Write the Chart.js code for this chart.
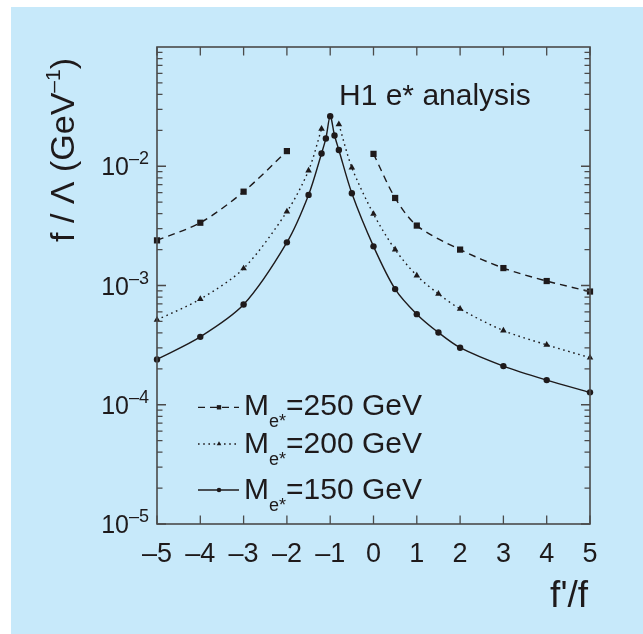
<!DOCTYPE html>
<html><head><meta charset="utf-8">
<script src="https://cdn.jsdelivr.net/npm/chart.js@4"></script>
<style>html,body{margin:0;padding:0;background:#fff;} canvas{display:block;}</style>
</head><body>
<canvas id="c" width="643" height="634"></canvas>
<script>
// ---- data ----
const xTicks = [-5,-4,-3,-2,-1,0,1,2,3,4,5];
const xTickLabels = ['\u20135','\u20134','\u20133','\u20132','\u20131','0','1','2','3','4','5'];
const yDecades = [1e-5,1e-4,1e-3,1e-2];
const yTickExps = ['\u20135','\u20134','\u20133','\u20132'];
const seriesNames = ['=250 GeV','=200 GeV','=150 GeV'];

const m250X = [-5,-4,-3,-2,-1,0,0.5,1,2,3,4,5];
const m250Y = [2.39e-3,3.36e-3,6.12e-3,1.34e-2,null,1.27e-2,5.42e-3,3.18e-3,2.0e-3,1.40e-3,1.09e-3,8.9e-4];

const m200X = [-5,-4,-3,-2,-1.5,-1.2,-1,-0.8,-0.5,0,0.5,1,1.5,2,3,4,5];
const m200Y = [5.15e-4,7.69e-4,1.39e-3,4.16e-3,9.2e-3,2.06e-2,null,2.25e-2,9.75e-3,3.98e-3,2.0e-3,1.21e-3,8.5e-4,6.37e-4,4.19e-4,3.18e-4,2.48e-4];

const m150X = [-5,-4,-3,-2,-1.5,-1.2,-1.1,-1,-0.9,-0.8,-0.5,0,0.5,1,1.5,2,3,4,5];
const m150Y = [2.40e-4,3.71e-4,6.92e-4,2.30e-3,5.75e-3,1.28e-2,1.71e-2,2.63e-2,1.81e-2,1.37e-2,5.93e-3,2.13e-3,9.33e-4,5.75e-4,4.03e-4,3.01e-4,2.11e-4,1.61e-4,1.27e-4];

// ---- style ----
const FONT = '"Liberation Sans", Arial, sans-serif';
const INK = '#1e1a1b';
const AXIS = '#4a4a4a';
const styles = [
  {dash:[7,5], point:'rect', r:4.4},
  {dash:[1.6,3.6], point:'triangle', r:3.8},
  {dash:[], point:'circle', r:3.2}
];

function pts(xs, ys){ return xs.map((x,i)=>({x:x, y:ys[i]})); }

function runs(ctx, parts, x, y, align){
  let w = 0;
  parts.forEach(p=>{ ctx.font = p[1]+'px '+FONT; p.w = ctx.measureText(p[0]).width; w += p.w + (p[3]||0); });
  let cx = align==='center' ? x - w/2 : (align==='right' ? x - w : x);
  ctx.textAlign = 'left';
  parts.forEach(p=>{ ctx.font = p[1]+'px '+FONT; ctx.fillText(p[0], cx, y + (p[2]||0)); cx += p.w + (p[3]||0); });
}

function marker(ctx, style, x, y, r){
  ctx.beginPath();
  if (style==='rect'){ const s=r*0.707; ctx.rect(x-s,y-s,2*s,2*s); }
  else if (style==='triangle'){ ctx.moveTo(x, y-r); ctx.lineTo(x+r*0.866, y+r*0.5); ctx.lineTo(x-r*0.866, y+r*0.5); ctx.closePath(); }
  else { ctx.arc(x,y,r,0,Math.PI*2); }
  ctx.fill();
}

const decor = {
  id:'decor',
  beforeDraw(chart){
    const ctx = chart.ctx;
    ctx.save();
    ctx.fillStyle = '#ffffff'; ctx.fillRect(0,0,chart.width,chart.height);
    ctx.fillStyle = '#c7e9fa'; ctx.fillRect(11,7,chart.width-11,chart.height-7);
    ctx.restore();
  },
  afterDatasetsDraw(chart){
    const ctx = chart.ctx, a = chart.chartArea;
    const xs = chart.scales.x, ys = chart.scales.y;
    ctx.save();
    // frame
    ctx.strokeStyle = AXIS; ctx.lineWidth = 1.6;
    ctx.strokeRect(a.left, a.top, a.right-a.left, a.bottom-a.top);
    // x ticks
    ctx.lineWidth = 1.3;
    ctx.beginPath();
    xTicks.forEach(v=>{
      const px = xs.getPixelForValue(v);
      ctx.moveTo(px, a.bottom); ctx.lineTo(px, a.bottom-8.5);
      ctx.moveTo(px, a.top); ctx.lineTo(px, a.top+8.5);
    });
    // y ticks
    yDecades.forEach(d=>{
      for (let k=1;k<=9;k++){
        const py = ys.getPixelForValue(k*d);
        const len = k===1 ? 9 : 5.5;
        ctx.moveTo(a.left, py); ctx.lineTo(a.left+len, py);
        ctx.moveTo(a.right, py); ctx.lineTo(a.right-len, py);
      }
    });
    ctx.stroke();
    // labels
    ctx.fillStyle = INK;
    ctx.textBaseline = 'alphabetic';
    xTicks.forEach((v,i)=>{
      runs(ctx, [[xTickLabels[i],27,0]], xs.getPixelForValue(v), a.bottom+38, 'center');
    });
    yDecades.forEach((d,i)=>{
      const py = ys.getPixelForValue(d);
      runs(ctx, [['10',25,0],[yTickExps[i],18,-11]], a.left-8, py+9, 'right');
    });
    // annotation
    runs(ctx, [['H1 e* analysis',30,0]], 339, 105, 'left');
    // legend
    const rows = [[407.3,415],[444,452.7],[490,499]];
    rows.forEach((r,i)=>{
      const st = styles[i];
      ctx.strokeStyle = INK; ctx.lineWidth = 1.3; ctx.setLineDash(st.dash);
      ctx.beginPath(); ctx.moveTo(198, r[0]); ctx.lineTo(239, r[0]); ctx.stroke();
      ctx.setLineDash([]);
      marker(ctx, st.point, 219, r[0], st.r*0.7);
      runs(ctx, [['M',30,0],['e*',18,12],[seriesNames[i],30,0]], 244, r[1], 'left');
    });
    // axis titles
    runs(ctx, [["f'/f",37,0]], 588, 607, 'right');
    ctx.translate(74, 150);
    ctx.rotate(-Math.PI/2);
    runs(ctx, [['f / \u039B (GeV',34,0],['\u20131',21,-14],[')',34,0]], 0, 0, 'center');
    ctx.restore();
  }
};

const datasets = [m250X, m200X, m150X].map((xsArr, i)=>{
  const ysArr = [m250Y, m200Y, m150Y][i];
  const st = styles[i];
  return {
    label: seriesNames[i],
    data: pts(xsArr, ysArr),
    borderColor: INK, backgroundColor: INK,
    borderWidth: 1.4, borderDash: st.dash,
    pointStyle: st.point, pointRadius: st.r, pointBorderWidth: 0,
    pointBackgroundColor: INK,
    tension: 0.3, spanGaps: false, clip: false, fill: false
  };
});

new Chart(document.getElementById('c').getContext('2d'), {
  type: 'line',
  data: { datasets: datasets },
  options: {
    responsive: false, animation: false, devicePixelRatio: 1,
    layout: { padding: { left: 157, right: 53, top: 47, bottom: 110 } },
    plugins: { legend: { display: false }, tooltip: { enabled: false } },
    scales: {
      x: { type: 'linear', min: -5, max: 5, display: false },
      y: { type: 'logarithmic', min: 1e-5, max: 1e-1, display: false }
    }
  },
  plugins: [decor]
});
</script>
</body></html>
